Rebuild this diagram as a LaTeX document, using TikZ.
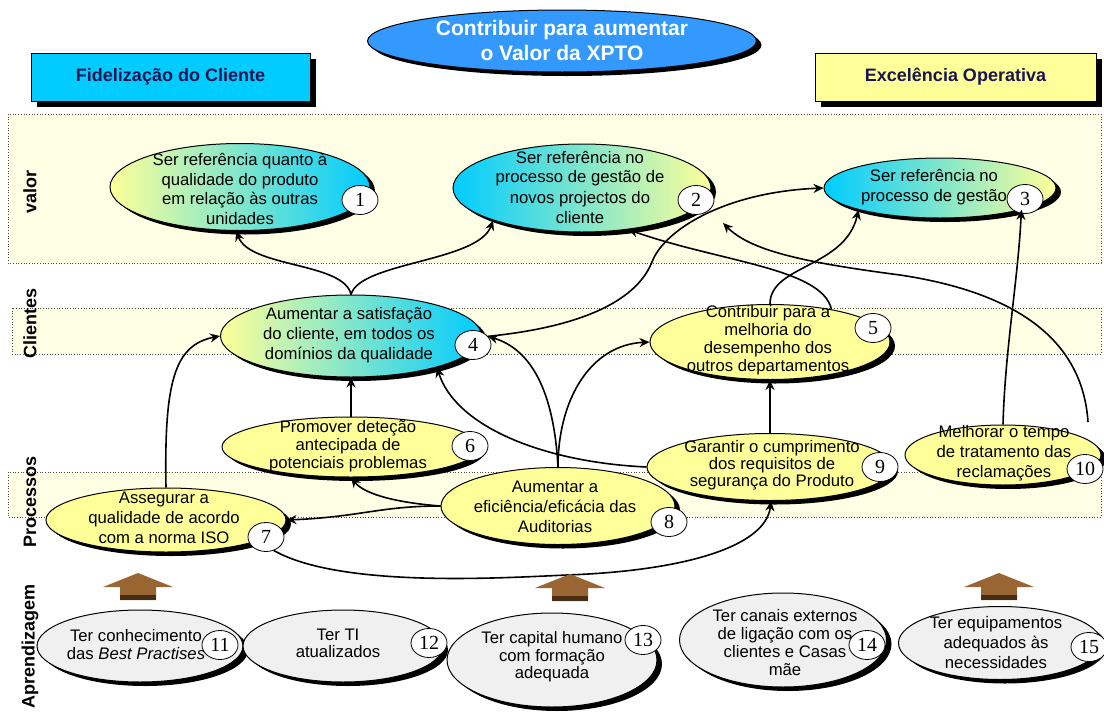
\documentclass[tikz,border=0pt]{standalone}
\usepackage{fontspec}
\setmainfont{Liberation Sans}
\newfontfamily\numfont{Liberation Serif}
\usetikzlibrary{shapes.geometric,arrows.meta,shadows}
\definecolor{yel}{RGB}{255,255,153}
\definecolor{cyanc}{RGB}{0,204,255}
\definecolor{midc}{RGB}{215,245,215}
\definecolor{grayf}{RGB}{240,240,240}
\definecolor{bandf}{RGB}{255,255,230}
\definecolor{titlef}{RGB}{51,153,255}
\definecolor{navy}{RGB}{26,20,80}
\definecolor{brownf}{RGB}{153,102,51}
\definecolor{brownd}{RGB}{70,45,20}
\begin{document}
\begin{tikzpicture}[x=1pt,y=-1pt,
  goal/.style={ellipse, draw=black, line width=1pt, inner sep=0pt,
    general shadow={fill=black, shadow xshift=5pt, shadow yshift=-4pt}},
  yelgoal/.style={goal, fill=yel},
  graygoal/.style={goal, fill=grayf},
  ycgoal/.style={goal, left color=yel, middle color=midc, right color=cyanc},
  cygoal/.style={goal, left color=cyanc, middle color=midc, right color=yel},
  txt/.style={align=center, inner sep=0pt, font=\fontsize{16.7}{#1}\selectfont},
  txt/.default=20,
  num/.style={ellipse, draw=black, fill=white, line width=0.8pt, inner sep=0pt,
    minimum width=36pt, minimum height=29pt, font=\numfont\fontsize{20}{20}\selectfont},
  hdr/.style={rectangle, draw=black, line width=1pt, inner sep=0pt,
    general shadow={fill=black, shadow xshift=6pt, shadow yshift=-6pt},
    font=\bfseries\fontsize{18}{20}\selectfont, text=navy},
  band/.style={draw=black!70, dotted, fill=bandf, line width=0.7pt},
  lab/.style={font=\bfseries\fontsize{18}{20}\selectfont, inner sep=0pt, rotate=90},
  link/.style={line width=1.6pt, -{Stealth[length=10pt,width=9pt]}},
  pics/bigup/.style={code={
    \fill[brownf] (-35,14) -- (0,0) -- (35,14) -- (18,14) -- (18,27) -- (-18,27) -- (-18,14) -- cycle;
    \fill[brownd] (-18,22) rectangle (18,27);
  }}
]
\useasboundingbox (0,0) rectangle (1104,715);

% bands
\draw[band] (8,114) rectangle (1101,263);
\draw[band] (12,308) rectangle (1101,354);
\draw[band] (8,472) rectangle (1101,517);

% side labels
\node[lab] (lval) at (30,192) {valor};
\node[lab] (lcli) at (30,323) {Clientes};
\node[lab] (lpro) at (30,502) {Processos};
\node[lab] (lapr) at (30,646) {Aprendizagem};

% title and headers
\node[ellipse, fill=titlef, draw=black, line width=1pt, minimum width=389pt, minimum height=62pt,
  general shadow={fill=black, shadow xshift=5pt, shadow yshift=-4pt}] (title) at (562,41) {};
\node[align=center, text=white, inner sep=0pt, font=\bfseries\fontsize{21}{25}\selectfont] (ttl) at (562,40) {Contribuir para aumentar\\o Valor da XPTO};
\node[hdr, fill=cyanc, minimum width=279pt, minimum height=48pt] (h1) at (170.5,77) {Fidelização do Cliente};
\node[hdr, fill=yel, minimum width=281pt, minimum height=48pt] (h2) at (955.5,77) {Excelência Operativa};

% value
\node[ycgoal, minimum width=260pt, minimum height=87pt] (e1) at (240,187) {};
\node[txt=19.5] (t1) at (240,189) {Ser referência quanto à\\qualidade do produto\\em relação às outras\\unidades};
\node[cygoal, minimum width=258pt, minimum height=88pt] (e2) at (582,188) {};
\node[txt] (t2) at (580,187) {Ser referência no\\processo de gestão de\\novos projectos do\\cliente};
\node[cygoal, minimum width=232pt, minimum height=60pt] (e3) at (940,188) {};
\node[txt] (t3) at (934,187) {Ser referência no\\processo de gestão};

% clients
\node[ycgoal, minimum width=261pt, minimum height=82pt] (e4) at (351,336) {};
\node[txt] (t4) at (349,335) {Aumentar a satisfação\\do cliente, em todos os\\domínios da qualidade};
\node[yelgoal, minimum width=240pt, minimum height=75pt] (e5) at (770,342) {};
\node[txt=18] (t5) at (768,340) {Contribuir para a\\melhoria do\\desempenho dos\\outros departamentos};

% processes
\node[yelgoal, minimum width=258pt, minimum height=60pt] (e6) at (351,447) {};
\node[txt=18] (t6) at (348,446) {Promover deteção\\antecipada de\\potenciais problemas};
\node[yelgoal, minimum width=240pt, minimum height=64pt] (e7) at (166,520) {};
\node[txt] (t7) at (164,518) {Assegurar a\\qualidade de acordo\\com a norma ISO};
\node[yelgoal, minimum width=234pt, minimum height=77pt] (e8) at (558,506) {};
\node[txt] (t8) at (555,507) {Aumentar a\\eficiência/eficácia das\\Auditorias};
\node[yelgoal, minimum width=246pt, minimum height=67pt] (e9) at (770,467) {};
\node[txt=17] (t9) at (772,465) {Garantir o cumprimento\\dos requisitos de\\segurança do Produto};
\node[yelgoal, minimum width=196pt, minimum height=60pt] (e10) at (1003,455) {};
\node[txt] (t10) at (1004,453) {Melhorar o tempo\\de tratamento das\\reclamações};

% learning
\node[graygoal, minimum width=206pt, minimum height=72pt] (e11) at (140,646) {};
\node[txt=18] (t11) at (136,645) {Ter conhecimento\\das \textit{Best Practises}};
\node[graygoal, minimum width=200pt, minimum height=72pt] (e12) at (343,646) {};
\node[txt=17] (t12) at (338,643) {Ter TI\\atualizados};
\node[graygoal, minimum width=210pt, minimum height=94pt] (e13) at (552,660) {};
\node[txt=17.5] (t13) at (552,657) {Ter capital humano\\com formação\\adequada};
\node[graygoal, minimum width=207pt, minimum height=94pt] (e14) at (783,640) {};
\node[txt=18] (t14) at (785,643) {Ter canais externos\\de ligação com os\\clientes e Casas\\mãe};
\node[graygoal, minimum width=203pt, minimum height=73pt] (e15) at (1000,643) {};
\node[txt] (t15) at (996,643) {Ter equipamentos\\adequados às\\necessidades};

% number badges
\node[num] (n1) at (360,200) {1};
\node[num] (n2) at (696,200) {2};
\node[num] (n3) at (1025,199) {3};
\node[num] (n4) at (473,345) {4};
\node[num] (n5) at (873,328) {5};
\node[num] (n6) at (470,446) {6};
\node[num] (n7) at (266,537) {7};
\node[num] (n8) at (669,522) {8};
\node[num] (n9) at (880,467) {9};
\node[num] (n10) at (1085,469) {10};
\node[num] (n11) at (220,645) {11};
\node[num] (n12) at (429,643) {12};
\node[num] (n13) at (643,640) {13};
\node[num] (n14) at (867,645) {14};
\node[num] (n15) at (1089,647) {15};

% free ends
\coordinate (f10) at (1088,422);
\coordinate (c2) at (723,223);

% connectors
\draw[link] (e4.north) .. controls (344,262) and (250,268) .. (e1.265);
\draw[link] (e4.north) .. controls (360,262) and (478,262) .. (e2.200);
\draw[link] (e8.north) .. controls (555,410) and (540,352) .. (n4.30);
\draw[link] (n4.30) .. controls (600,325) and (640,292) .. (652,262) .. controls (664,230) and (725,192) .. (e3.west);
\draw[link] (e8.north) .. controls (558,400) and (590,345) .. (e5.west);
\draw[link] (e9.west) .. controls (540,462) and (455,425) .. (e4.-20);
\draw[link] (e6.north) -- (e4.south);
\draw[link] (e7.north) .. controls (164,380) and (175,345) .. (e4.west);
\draw[link] (e8.west) .. controls (400,503) and (365,495) .. (e6.south);
\draw[link] (e8.west) .. controls (380,506) and (360,517) .. (e7.east);
\draw[link] (n7.-60) .. controls (340,588) and (500,578) .. (567,575) .. controls (680,571) and (765,548) .. (e9.-88);
\draw[link] (e9.north) -- (e5.south);
\draw[link] (e5.north) .. controls (770,265) and (845,268) .. (e3.195);
\draw[link] (e5.28) .. controls (822,268) and (720,262) .. (e2.-42);
\draw[link] (f10) .. controls (1082,330) and (1000,290) .. (900,275) .. controls (800,262) and (750,250) .. (c2);
\draw[link] (e10.north) .. controls (1005,350) and (1018,280) .. (e3.-15);

% block arrows
\pic at (138,573) {bigup};
\pic at (570,574) {bigup};
\pic at (999,573) {bigup};
\end{tikzpicture}
\end{document}
